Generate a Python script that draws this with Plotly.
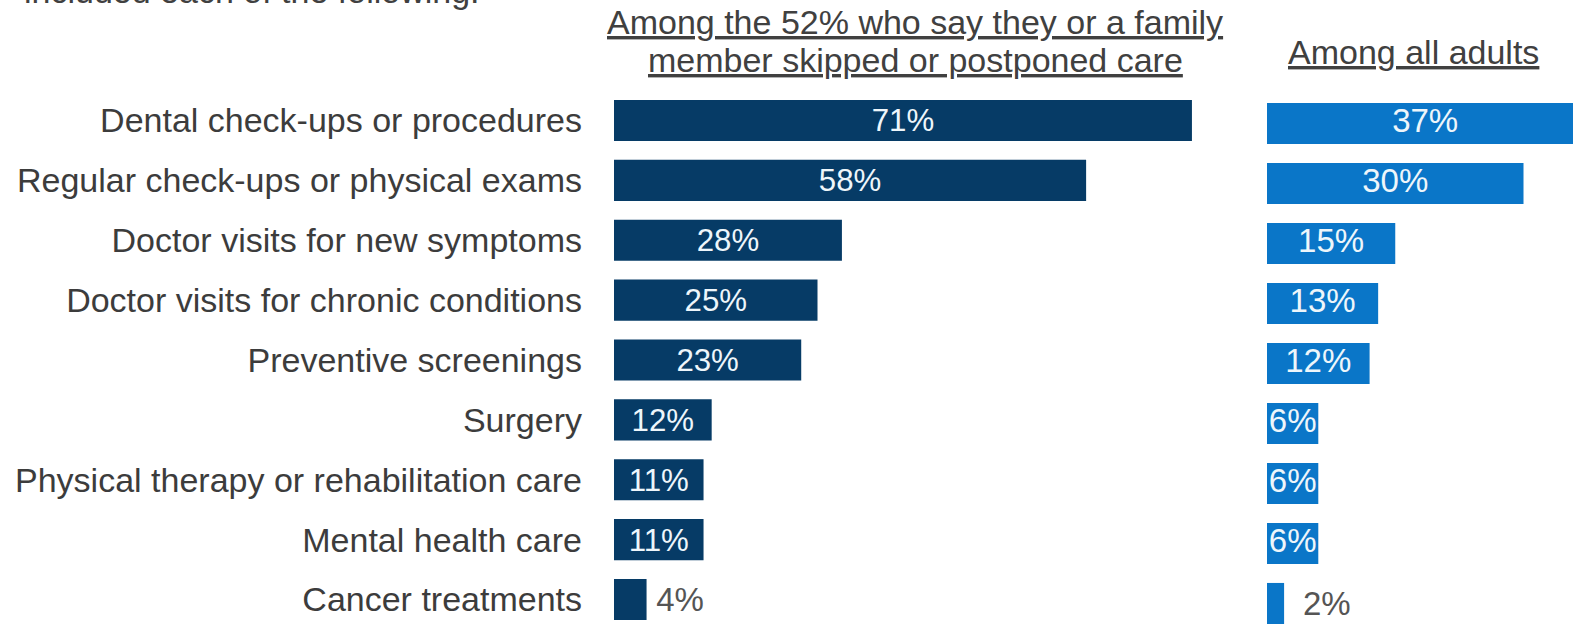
import plotly.graph_objects as go

categories = [
    "Dental check-ups or procedures",
    "Regular check-ups or physical exams",
    "Doctor visits for new symptoms",
    "Doctor visits for chronic conditions",
    "Preventive screenings",
    "Surgery",
    "Physical therapy or rehabilitation care",
    "Mental health care",
    "Cancer treatments",
]
among_skipped = [71, 58, 28, 25, 23, 12, 11, 11, 4]
among_all = [37, 30, 15, 13, 12, 6, 6, 6, 2]

header_left_1 = "Among the 52% who say they or a family"
header_left_2 = "member skipped or postponed care"
header_right = "Among all adults"
top_text = "included each of the following:"

# body margin is removed by the post script, so the figure fills the window
OFF = 0
W, H = 1573 - OFF, 624 - OFF
FONT = "Liberation Sans, Arial, sans-serif"
DARK = "#063b66"
BLUE = "#0a76c8"
LABEL = "#3c3c3c"
INSIDE = "#eef6fb"
OUTSIDE = "#555555"


def px_x(X):
    return (X - OFF) / W


def px_y(Y):
    return 1 - (Y - OFF) / H


fig = go.Figure()

# left panel
fig.add_trace(go.Bar(
    x=among_skipped, y=categories, orientation="h",
    marker=dict(color=DARK, line=dict(width=0)),
    width=0.685,
    text=[f"{v}%" if v >= 5 else f"\u2009{v}%" for v in among_skipped],
    textposition=["inside" if v >= 5 else "outside" for v in among_skipped],
    insidetextanchor="middle",
    insidetextfont=dict(color=INSIDE, size=33, family=FONT),
    outsidetextfont=dict(color=OUTSIDE, size=33, family=FONT),
    cliponaxis=False,
    xaxis="x", yaxis="y", showlegend=False, hoverinfo="x+y",
))

# right panel bars
small_all = [v < 3 for v in among_all]
fig.add_trace(go.Bar(
    x=among_all, y=categories, orientation="h",
    marker=dict(color=BLUE, line=dict(width=0)),
    width=0.685,
    text=[f"\u00a0\u2009{v}%" if s else "" for v, s in zip(among_all, small_all)],
    textposition="outside",
    outsidetextfont=dict(color=OUTSIDE, size=33, family=FONT),
    cliponaxis=False,
    xaxis="x2", yaxis="y2", showlegend=False, hoverinfo="x+y",
))
# right panel inside labels (centred in each bar)
fig.add_trace(go.Scatter(
    x=[v / 2 for v, s in zip(among_all, small_all) if not s],
    y=[c for c, s in zip(categories, small_all) if not s],
    text=[f"{v}%" for v, s in zip(among_all, small_all) if not s],
    mode="text", textposition="middle center",
    textfont=dict(color=INSIDE, size=33, family=FONT),
    cliponaxis=False,
    xaxis="x2", yaxis="y2", showlegend=False, hoverinfo="skip",
))

n = len(categories)
l_top, l_step = 120.5 - OFF, 59.875
r_top, r_step = 123.5 - OFF, 60.0

fig.update_layout(
    width=W, height=H,
    margin=dict(l=0, r=0, t=0, b=0),
    paper_bgcolor="white", plot_bgcolor="white",
    font=dict(family=FONT, color=LABEL),
    xaxis=dict(domain=[px_x(614), px_x(1240)], range=[0, 626 / 8.14],
               visible=False, fixedrange=True),
    yaxis=dict(type="category", categoryorder="array", categoryarray=categories,
               range=[(n - 1) + (H - (l_top + (n - 1) * l_step)) / l_step, -l_top / l_step],
               showline=False, showgrid=False, zeroline=False, ticks="",
               ticklabelstandoff=31,
               tickfont=dict(size=34, color=LABEL, family=FONT)),
    xaxis2=dict(domain=[px_x(1267), 1], range=[0, 306 / 8.55],
                visible=False, fixedrange=True),
    yaxis2=dict(type="category", categoryorder="array", categoryarray=categories,
                range=[(n - 1) + (H - (r_top + (n - 1) * r_step)) / r_step, -r_top / r_step],
                anchor="x2", showticklabels=False, showline=False, showgrid=False,
                zeroline=False, ticks=""),
)

hdr_font = dict(size=34, color="#404040", family=FONT)
fig.add_annotation(text=f"<u>{header_left_1}</u>", xref="paper", yref="paper",
                   x=px_x(915), y=px_y(22.5), xanchor="center", yanchor="middle",
                   showarrow=False, font=hdr_font)
fig.add_annotation(text=f"<u>{header_left_2}</u>", xref="paper", yref="paper",
                   x=px_x(915), y=px_y(60.5), xanchor="center", yanchor="middle",
                   showarrow=False, font=hdr_font)
fig.add_annotation(text=f"<u>{header_right}</u>", xref="paper", yref="paper",
                   x=px_x(1413), y=px_y(52), xanchor="center", yanchor="middle",
                   showarrow=False, font=hdr_font)
fig.add_annotation(text=top_text, xref="paper", yref="paper",
                   x=px_x(22), y=px_y(11.5), xanchor="left", yanchor="bottom",
                   showarrow=False, font=dict(size=34, color="#404040", family=FONT))

fig.write_html(
    "out.html",
    config={"displayModeBar": False},
    post_script="document.body.style.margin='0px';document.body.style.overflow='hidden';",
)
